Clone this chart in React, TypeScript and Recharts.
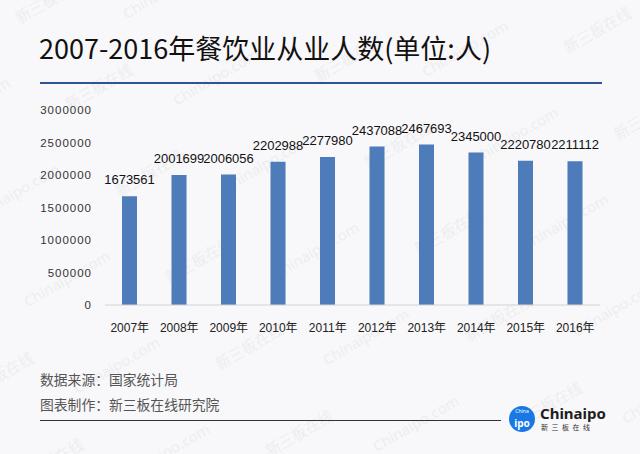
import React from 'react';
import { BarChart, Bar, XAxis, YAxis, LabelList } from 'recharts';

// 年份
const years = ['2007年', '2008年', '2009年', '2010年', '2011年', '2012年', '2013年', '2014年', '2015年', '2016年'];
// 从业人数
const workers = [1673561, 2001699, 2006056, 2202988, 2277980, 2437088, 2467693, 2345000, 2220780, 2211112];
// 纵轴刻度
const yTicks = [0, 500000, 1000000, 1500000, 2000000, 2500000, 3000000];

const data = years.map((year, i) => ({ year, value: workers[i] }));

const BG = '#f8f7f9';
const BAR = '#4e7bba';

function Watermark() {
  return (
    <svg width={640} height={454} style={{ position: 'absolute', left: 0, top: 0 }}>
      <defs>
        <pattern
          id="wm"
          width={230}
          height={100}
          patternUnits="userSpaceOnUse"
          patternTransform="rotate(-30)"
        >
          <text x={5} y={30} fontSize={15} fill="#ecebee" fontFamily="Noto Sans CJK SC">
            新三板在线
          </text>
          <text x={100} y={80} fontSize={15} fill="#ecebee" fontFamily="Noto Sans">
            Chinaipo.com
          </text>
        </pattern>
      </defs>
      <rect width={640} height={454} fill="url(#wm)" />
    </svg>
  );
}

function Logo() {
  return (
    <svg width={110} height={40} style={{ position: 'absolute', left: 505, top: 399 }}>
      <circle cx={17} cy={20} r={13} fill="#1a78e6" />
      <text x={17} y={14} fontSize={5} fill="#fff" textAnchor="middle" fontFamily="Noto Sans">
        China
      </text>
      <text x={17} y={28} fontSize={10} fontWeight="bold" fill="#fff" textAnchor="middle" fontFamily="Noto Sans">
        ipo
      </text>
      <text x={35} y={20} fontSize={15} fontWeight="bold" fill="#1d1d1f" fontFamily="Noto Sans">
        Chinaipo
      </text>
      <text x={36} y={31} fontSize={7} fill="#333" letterSpacing={3.5} fontFamily="Noto Sans CJK SC">
        新三板在线
      </text>
    </svg>
  );
}

export default function App() {
  return (
    <div
      style={{
        position: 'absolute',
        left: 0,
        top: 0,
        width: 640,
        height: 454,
        background: BG,
        overflow: 'hidden',
        fontFamily: '"Noto Sans CJK SC", sans-serif',
      }}
    >
      <Watermark />
      <div
        style={{
          position: 'absolute',
          left: 39,
          top: 33,
          fontSize: 27,
          lineHeight: '30px',
          fontWeight: 400,
          color: '#111',
          whiteSpace: 'nowrap',
        }}
      >
        2007-2016年餐饮业从业人数(单位:人)
      </div>
      <div style={{ position: 'absolute', left: 40, top: 82, width: 562, height: 2, background: '#2c5596' }} />

      <div style={{ position: 'absolute', left: 0, top: 0 }}>
        <BarChart
          width={640}
          height={454}
          data={data}
          margin={{ top: 110, right: 40, bottom: 119, left: 40 }}
        >
          <XAxis
            dataKey="year"
            height={30}
            axisLine={{ stroke: '#d3d3d3' }}
            tickLine={false}
            tickSize={6}
            tickMargin={12}
            interval={0}
            tick={{ fontSize: 12, fill: '#222', fontFamily: '"Liberation Sans", "Noto Sans CJK SC"' }}
          />
          <YAxis
            width={65}
            domain={[0, 3000000]}
            ticks={yTicks}
            interval={0}
            axisLine={false}
            tickLine={false}
            tickSize={5}
            tickMargin={8}
            tick={{ fontSize: 11.5, fill: '#333', letterSpacing: 1, fontFamily: '"Liberation Sans"' }}
          />
          <Bar dataKey="value" fill={BAR} barSize={15} isAnimationActive={false}>
            <LabelList
              dataKey="value"
              position="top"
              offset={12}
              fill="#111"
              fontSize={13}
              fontFamily='"Liberation Sans"'
            />
          </Bar>
        </BarChart>
      </div>

      <div style={{ position: 'absolute', left: 40, top: 370, fontSize: 13.8, lineHeight: '18px', color: '#555' }}>
        数据来源：国家统计局
      </div>
      <div style={{ position: 'absolute', left: 40, top: 395, fontSize: 13.8, lineHeight: '18px', color: '#555' }}>
        图表制作：新三板在线研究院
      </div>
      <div style={{ position: 'absolute', left: 40, top: 420, width: 461, height: 1, background: '#333' }} />
      <Logo />
    </div>
  );
}
